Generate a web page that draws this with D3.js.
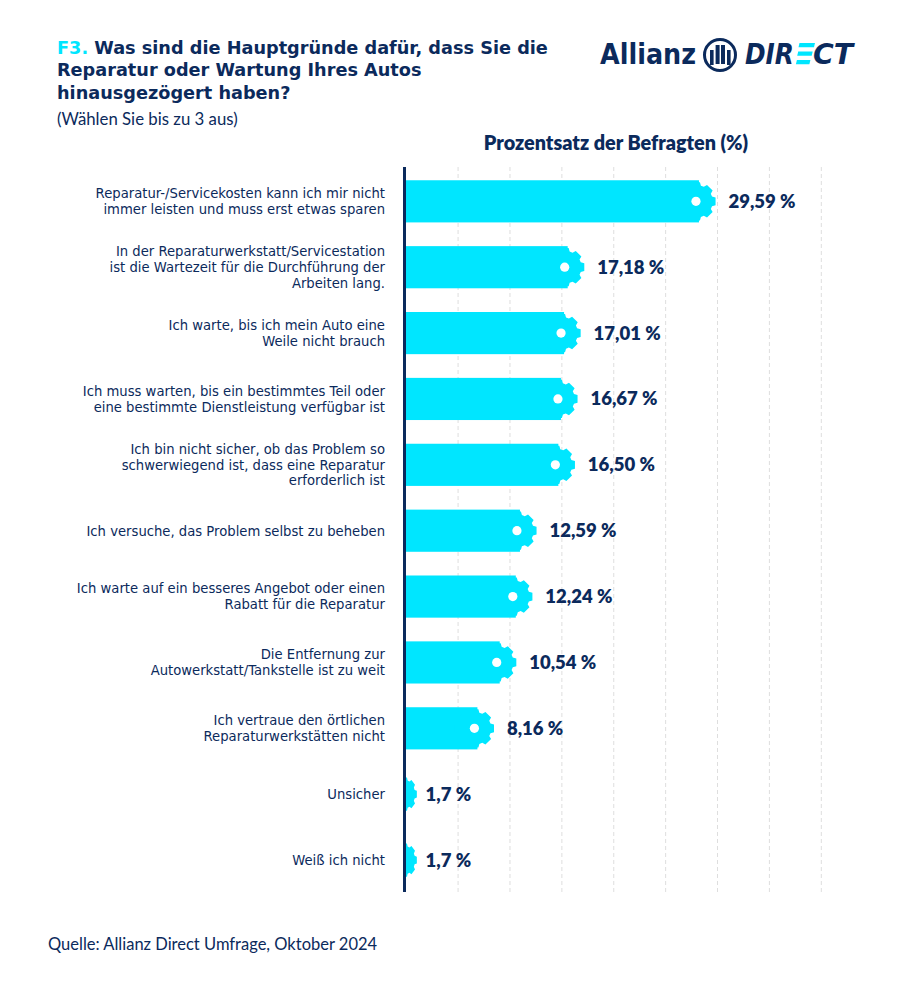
<!DOCTYPE html>
<html><head><meta charset="utf-8">
<script src="https://cdn.jsdelivr.net/npm/d3@7"></script>
<style>html,body{margin:0;padding:0;background:#fff}svg{display:block}text{font-family:"DejaVu Sans",sans-serif}text.lato{font-family:Lato,sans-serif}</style>
</head><body><svg id="c" width="900" height="984"></svg>
<script>
const categories = [
  ["Reparatur-/Servicekosten kann ich mir nicht","immer leisten und muss erst etwas sparen"],
  ["In der Reparaturwerkstatt/Servicestation","ist die Wartezeit für die Durchführung der","Arbeiten lang."],
  ["Ich warte, bis ich mein Auto eine","Weile nicht brauch"],
  ["Ich muss warten, bis ein bestimmtes Teil oder","eine bestimmte Dienstleistung verfügbar ist"],
  ["Ich bin nicht sicher, ob das Problem so","schwerwiegend ist, dass eine Reparatur","erforderlich ist"],
  ["Ich versuche, das Problem selbst zu beheben"],
  ["Ich warte auf ein besseres Angebot oder einen","Rabatt für die Reparatur"],
  ["Die Entfernung zur","Autowerkstatt/Tankstelle ist zu weit"],
  ["Ich vertraue den örtlichen","Reparaturwerkstätten nicht"],
  ["Unsicher"],
  ["Weiß ich nicht"]
];
// printed values
const valueLabels = ["29,59 %","17,18 %","17,01 %","16,67 %","16,50 %","12,59 %","12,24 %","10,54 %","8,16 %","1,7 %","1,7 %"];
// bar lengths as drawn in the picture, in axis units
const barLengths = [29.85,17.2,16.85,16.55,16.3,12.6,12.2,10.65,8.5,1.05,1.05];
const gridTicks = [5,10,15,20,25,30,35,40];
const titleLines = ["Was sind die Hauptgründe dafür, dass Sie die","Reparatur oder Wartung Ihres Autos","hinausgezögert haben?"];

const NAVY="#0b2a5c", CYAN="#00e6ff";
const svg=d3.select("#c");
const x=d3.scaleLinear().domain([0,40]).range([406.2,821.3]);
const y=d3.scaleBand().domain(d3.range(categories.length)).range([168.4,893]).paddingInner(0.36).paddingOuter(0.18);
const axisX=404.5;

// gridlines
svg.append("g").selectAll("line").data(gridTicks).join("line")
  .attr("x1",d=>x(d)).attr("x2",d=>x(d)).attr("y1",167).attr("y2",892)
  .attr("stroke","#dedede").attr("stroke-width",1).attr("stroke-dasharray","4 3");

function cog(cx,cy,rx,ry){
  const n=8,rIn=0.84,hw=0.2,hb=0.3;let p=[];
  for(let i=0;i<n;i++){
    const a=i*2*Math.PI/n;
    [[a-hb,rIn],[a-hw,1],[a+hw,1],[a+hb,rIn]].forEach(([t,r])=>p.push([cx+rx*r*Math.cos(t),cy+ry*r*Math.sin(t)]));
  }
  return d3.line().curve(d3.curveLinearClosed)(p);
}
svg.append("defs").append("clipPath").attr("id","plot").append("rect")
  .attr("x",axisX).attr("y",160).attr("width",480).attr("height",740);

const bars=svg.append("g").attr("clip-path","url(#plot)");
barLengths.forEach((v,i)=>{
  const end=x(v),cy=y(i)+y.bandwidth()/2,small=end-axisX<20;
  const cx=small?axisX:end-20, rx=small?end-axisX:20, ry=small?17:19.5;
  if(!small) bars.append("rect").attr("x",axisX).attr("y",y(i)).attr("width",end-17-axisX).attr("height",y.bandwidth()).attr("fill",CYAN);
  bars.append("path").attr("d",cog(cx,cy,rx,ry)).attr("fill",CYAN);
  if(!small) bars.append("circle").attr("cx",cx).attr("cy",cy).attr("r",4.6).attr("fill","#fff");
  svg.append("text").attr("class","lato").attr("x",end+(small?8.5:12.5)).attr("y",cy+6.5).attr("fill",NAVY)
    .attr("font-size",18.5).attr("font-weight",800).text(valueLabels[i]);
  const lines=categories[i],lh=15.8,start=cy+4.8-(lines.length-1)*lh/2;
  lines.forEach((l,j)=>svg.append("text").attr("text-anchor","end").attr("fill",NAVY).attr("font-size",13.2)
    .attr("x",385).attr("y",start+j*lh).text(l));
});
svg.append("line").attr("x1",axisX).attr("x2",axisX).attr("y1",167).attr("y2",892)
  .attr("stroke",NAVY).attr("stroke-width",3);

// title
titleLines.forEach((l,j)=>{
  const s=svg.append("text").attr("fill",NAVY).attr("font-size",17.7).attr("font-weight",700).attr("x",57).attr("y",53.5+j*22.6);
  if(j===0) s.append("tspan").attr("fill",CYAN).text("F3. ");
  s.append("tspan").text(l);
});
svg.append("text").attr("class","lato").attr("x",57).attr("y",125).attr("fill",NAVY).attr("font-size",16.8).text("(Wählen Sie bis zu 3 aus)");
svg.append("text").attr("class","lato").attr("x",616).attr("y",150).attr("text-anchor","middle").attr("fill",NAVY).attr("font-size",19.8).attr("font-weight",800).text("Prozentsatz der Befragten (%)");
svg.append("text").attr("class","lato").attr("x",48).attr("y",950).attr("fill",NAVY).attr("font-size",16.5).text("Quelle: Allianz Direct Umfrage, Oktober 2024");

// logo
const logo=svg.append("g");
logo.append("text").attr("x",600).attr("y",64).attr("fill",NAVY).attr("font-size",28).attr("font-weight",700)
  .attr("textLength",96).attr("lengthAdjust","spacingAndGlyphs").text("Allianz");
logo.append("circle").attr("cx",720).attr("cy",55).attr("r",15.5).attr("fill","none").attr("stroke",NAVY).attr("stroke-width",3);
[[711.5,50,3.6,15],[717.3,45,4,21],[722.7,45,4,21],[728.5,50,3.6,15]].forEach(([a,b,w,h])=>
  logo.append("rect").attr("x",a-w/2+0.3).attr("y",b).attr("width",w).attr("height",h-(h>15?2:0)).attr("fill",NAVY));
const ditalic=(xp,w,txt)=>logo.append("text").attr("x",xp).attr("y",64).attr("fill",NAVY).attr("font-size",28).attr("font-weight",700).attr("font-style","italic")
  .attr("textLength",w).attr("lengthAdjust","spacingAndGlyphs").text(txt);
ditalic(745,49,"DIR");
ditalic(813,40,"CT");
[[43,4.2],[51.5,4.2],[60,4.2]].forEach(([b,h],i)=>
  logo.append("path").attr("d",`M${799.5-i*1.3} ${b}h${15.5-i*1.0}l-1 ${h}h-${15.5-i*1.0}z`).attr("fill",CYAN));
</script></body></html>
